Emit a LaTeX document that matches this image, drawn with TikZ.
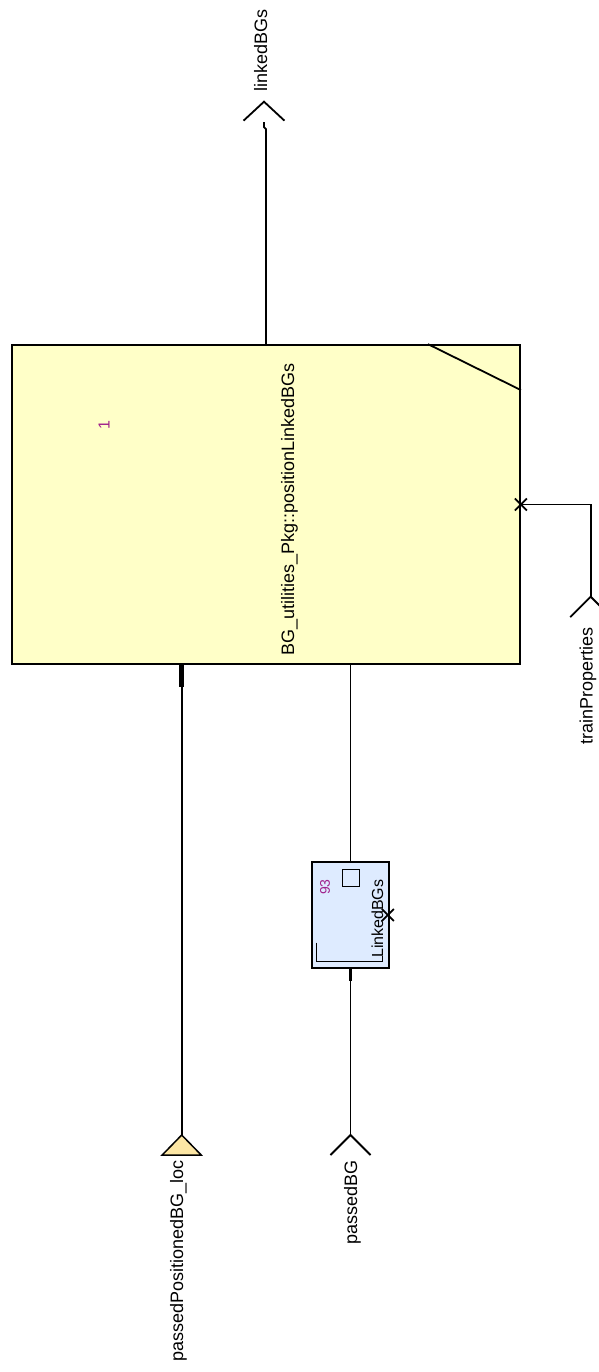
\documentclass[tikz,border=0pt]{standalone}
\usepackage{fontspec}
\setmainfont{Liberation Sans}
\usepackage{tikz}
\usetikzlibrary{arrows.meta,calc}
\definecolor{opyellow}{HTML}{FFFFC8}
\definecolor{fbyblue}{HTML}{DEEBFF}
\definecolor{locyellow}{HTML}{FCE6A4}
\definecolor{instmag}{HTML}{A0228C}
\tikzset{
  every picture/.style={line join=miter, line cap=butt, >=Stealth},
  wire/.style={line width=1.8pt},
  stub/.style={line width=4.5pt},
  opbox/.style={draw, line width=1.8pt, fill=opyellow, inner sep=0pt,
    minimum width=508pt, minimum height=319pt},
  fbybox/.style={draw, line width=1.6pt, fill=fbyblue, inner sep=0pt,
    minimum width=77pt, minimum height=106pt},
  vlabel/.style={rotate=90, inner sep=0pt, font=\fontsize{18}{20}\selectfont},
  instlabel/.style={rotate=90, inner sep=0pt, text=instmag},
}
\begin{document}
\begin{tikzpicture}[x=1pt,y=-1pt]
\useasboundingbox (0,0) rectangle (599,1372);
% operator block
\node[opbox] (op) at (266,504.5) {};
\draw[wire] ([xshift=-93pt]op.north east) -- ([yshift=-46pt]op.north east);
\node[vlabel, anchor=base west] (opname) at (294,656) {BG\_utilities\_Pkg::positionLinkedBGs};
\node[instlabel, font=\fontsize{16}{17}\selectfont] (opinst) at (104,425.5) {1};
% memory block
\node[fbybox] (fby) at (350.5,915) {};
\draw[line width=1.4pt] ([xshift=-8pt,yshift=45.5pt]fby.center) rectangle ++(17,17);
\draw[wire] ([xshift=5.3pt,yshift=26.3pt]fby.south west) -- ++(0,19) -- ++(66,0) -- ++(0,-6);
\node[instlabel, font=\fontsize{14}{15}\selectfont] (fbyinst) at (325,887) {93};
\node[vlabel, anchor=base west, font=\fontsize{16}{17}\selectfont] (fbyname) at (383,958) {LinkedBGs};
% ends
\coordinate (inLoc) at (181.7,1135);
\coordinate (inBG) at (350.5,1135);
\coordinate (inTrain) at (590.7,596.7);
\coordinate (outLinked) at (264,101.7);
\filldraw[wire, line width=1.5pt, fill=locyellow] (inLoc) -- ++(19.5,20) -- ++(-39,0) -- cycle;
\draw[wire] (inBG) ++(-20,20) -- (inBG) -- ++(20,20);
\draw[wire] (inTrain) ++(-20.5,20.5) -- (inTrain) -- ++(20.5,20.5);
\draw[wire] (outLinked) ++(-20.5,19) -- (outLinked) -- ++(20.5,19);
\node[vlabel, anchor=base east] (locname) at (183,1160) {passedPositionedBG\_loc};
\node[vlabel, anchor=base east] (bgname) at (357,1160) {passedBG};
\node[vlabel, anchor=base east] (trainname) at (592.7,627) {trainProperties};
\node[vlabel, anchor=base west] (linkedname) at (267,91.7) {linkedBGs};
% wires
\draw[wire] (inLoc) -- (inLoc |- op.south);
\draw[stub] (inLoc |- op.south) -- ++(0,22);
\draw[wire] (inBG) -- (fby.south);
\draw[line width=3.5pt] (fby.south) -- ++(0,12);
\draw[wire] (fby.north) -- (fby.north |- op.south);
\draw[wire] (inTrain) |- (op.east);
\draw[wire] (op.north) -- ++(0,-215) -- ++(-2,-2) -- ++(0,-5);
% port marks
\draw[wire] (op.east) ++(-6,-6) -- ++(12,12) ++(0,-12) -- ++(-12,12);
\draw[wire] ([xshift=-2pt]fby.east) ++(-6,-6) -- ++(12,12) ++(0,-12) -- ++(-12,12);
\end{tikzpicture}
\end{document}
